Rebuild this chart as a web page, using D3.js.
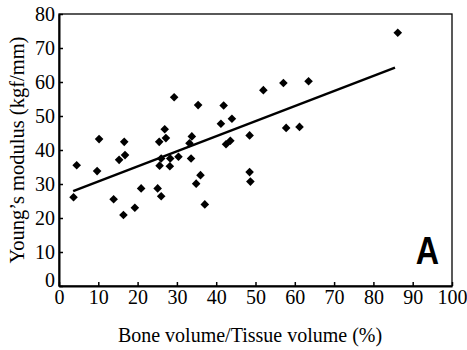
<!DOCTYPE html>
<html>
<head>
<meta charset="utf-8">
<script src="https://cdn.jsdelivr.net/npm/d3@7"></script>
<style>
  body { margin: 0; background: #fff; }
  svg { display: block; }
</style>
</head>
<body>
<svg id="chart"></svg>
<script>
// Data.
var boneVolume = [3.7, 4.5, 9.7, 10.2, 13.9, 15.3, 16.4, 16.6, 16.8, 19.3, 20.9,
  25.1, 25.5, 25.6, 26.0, 26.0, 26.9, 27.2, 28.2, 28.3, 29.3, 30.4, 33.2, 33.6,
  33.8, 34.9, 35.4, 36.0, 37.1, 41.2, 41.9, 42.5, 43.6, 44.0, 48.5, 48.5, 48.7,
  52.0, 57.1, 57.8, 61.2, 63.5, 86.2];
var youngModulus = [26.1, 35.5, 33.8, 43.2, 25.5, 37.1, 20.9, 42.4, 38.5, 23.0, 28.7,
  28.7, 42.4, 35.4, 26.4, 37.5, 46.1, 43.5, 35.2, 37.5, 55.5, 38.0, 42.0, 37.5,
  44.0, 30.1, 53.2, 32.6, 24.0, 47.7, 53.1, 41.7, 42.7, 49.2, 44.3, 33.5, 30.7,
  57.6, 59.7, 46.5, 46.8, 60.2, 74.5];

// Regression line end points.
var fitX = [3.6, 85.5];
var fitY = [27.9, 64.2];

// Tick values.
var xTicks = [0, 10, 20, 30, 40, 50, 60, 70, 80, 90, 100];
var yTicks = [0, 10, 20, 30, 40, 50, 60, 70, 80];

// Canvas settings.
var width = 467, height = 350;
var margin = { top: 14, right: 15, bottom: 64, left: 59 };
var serif = '"Liberation Serif", "Times New Roman", serif';

var svg = d3.select('#chart')
  .attr('width', width)
  .attr('height', height);

var x = d3.scaleLinear().domain([0, 100]).range([margin.left, width - margin.right]);
var y = d3.scaleLinear().domain([0, 80]).range([height - margin.bottom, margin.top]);

// Frame (top and right, thinner).
svg.append('rect')
  .attr('x', x(0))
  .attr('y', y(80))
  .attr('width', x(100) - x(0))
  .attr('height', y(0) - y(80))
  .attr('fill', 'none')
  .attr('stroke', '#000')
  .attr('stroke-width', 1.3);

// X axis.
var xAxis = svg.append('g')
  .attr('transform', 'translate(0,' + y(0) + ')')
  .call(d3.axisBottom(x).tickValues(xTicks).tickSizeInner(-4).tickSizeOuter(0).tickPadding(4));

// Y axis.
var yAxis = svg.append('g')
  .attr('transform', 'translate(' + x(0) + ',0)')
  .call(d3.axisLeft(y).tickValues(yTicks).tickSizeInner(-4).tickSizeOuter(0).tickPadding(4));

[xAxis, yAxis].forEach(function(a) {
  a.select('.domain').attr('stroke-width', 2);
  a.selectAll('.tick line').attr('stroke-width', 1.5);
  a.selectAll('.tick text')
    .attr('font-family', serif)
    .attr('font-size', 20)
    .attr('fill', '#000');
});

// Lift the y "0" so it clears the x "0".
yAxis.selectAll('.tick text')
  .filter(function(d) { return d === 0; })
  .attr('y', -6);

// Axis titles.
svg.append('text')
  .attr('x', 250)
  .attr('y', 342)
  .attr('text-anchor', 'middle')
  .attr('font-family', serif)
  .attr('font-size', 20)
  .text('Bone volume/Tissue volume (%)');

svg.append('text')
  .attr('transform', 'translate(24,' + (margin.top + (y(0) - y(80)) / 2) + ') rotate(-90)')
  .attr('text-anchor', 'middle')
  .attr('font-family', serif)
  .attr('font-size', 20.5)
  .text('Young\u2019s modulus (kgf/mm)');

// Regression line.
svg.append('line')
  .attr('x1', x(fitX[0]))
  .attr('y1', y(fitY[0]))
  .attr('x2', x(fitX[1]))
  .attr('y2', y(fitY[1]))
  .attr('stroke', '#000')
  .attr('stroke-width', 2.4);

// Diamond markers.
var r = 4.3;
svg.append('g')
  .selectAll('path')
  .data(boneVolume)
  .enter()
  .append('path')
  .attr('d', function(d, i) {
    var cx = x(d), cy = y(youngModulus[i]);
    return 'M' + cx + ',' + (cy - r) + 'L' + (cx + r) + ',' + cy +
           'L' + cx + ',' + (cy + r) + 'L' + (cx - r) + ',' + cy + 'Z';
  })
  .attr('fill', '#000');

// Panel letter.
svg.append('text')
  .attr('transform', 'translate(427.5,264) scale(0.85,1)')
  .attr('text-anchor', 'middle')
  .attr('font-family', '"Liberation Sans", Arial, sans-serif')
  .attr('font-weight', 'bold')
  .attr('font-size', 38)
  .text('A');
</script>
</body>
</html>
